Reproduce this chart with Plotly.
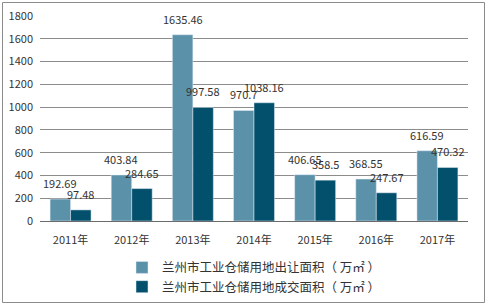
import plotly.graph_objects as go

categories = ["2011年", "2012年", "2013年", "2014年", "2015年", "2016年", "2017年"]
supply = [192.69, 403.84, 1635.46, 970.7, 406.65, 368.55, 616.59]
deal = [97.48, 284.65, 997.58, 1038.16, 358.5, 247.67, 470.32]
supply_labels = ["192.69", "403.84", "1635.46", "970.7", "406.65", "368.55", "616.59"]
deal_labels = ["97.48", "284.65", "997.58", "1038.16", "358.5", "247.67", "470.32"]
name1 = "兰州市工业仓储用地出让面积（ 万㎡ ）"
name2 = "兰州市工业仓储用地成交面积（ 万㎡ ）"
yticks = [0, 200, 400, 600, 800, 1000, 1200, 1400, 1600, 1800]

FONT = "Noto Sans CJK SC, Noto Sans, sans-serif"

L, R, T, B = 40, 20, 16, 85
W, H = 488, 306
pw, ph = W - L - R, H - T - B
BARGAP = 0.33
half_bar = pw / len(categories) * (1 - BARGAP) / 4

fig = go.Figure()
fig.add_bar(x=categories, y=supply, name=name1, marker_color="#5B91A9")
fig.add_bar(x=categories, y=deal, name=name2, marker_color="#03506C")

annotations = []
for cat, v, t in zip(categories, supply, supply_labels):
    annotations.append(dict(x=cat, y=v, text=t, xref="x", yref="y", showarrow=False,
                            yanchor="bottom", xshift=-half_bar, yshift=6,
                            font=dict(size=11, color="#333333")))
for cat, v, t in zip(categories, deal, deal_labels):
    annotations.append(dict(x=cat, y=v, text=t, xref="x", yref="y", showarrow=False,
                            yanchor="bottom", xshift=half_bar, yshift=6,
                            font=dict(size=11, color="#333333")))

fig.update_layout(
    width=W, height=H,
    margin=dict(l=L, r=R, t=T, b=B, autoexpand=False),
    paper_bgcolor="white", plot_bgcolor="white",
    font=dict(family=FONT, size=11, color="#333333"),
    barmode="group", bargap=BARGAP, bargroupgap=0,
    showlegend=True,
    legend=dict(orientation="v", x=0.5, xanchor="center", y=-0.155, yanchor="top",
                font=dict(size=12.5, color="#333333"), itemwidth=30,
                tracegroupgap=0, bgcolor="rgba(0,0,0,0)"),
    xaxis=dict(showline=True, linecolor="#6b6b6b", linewidth=1, ticks="",
               ticklabelstandoff=9,
               tickfont=dict(size=11, color="#333333"), showgrid=False),
    yaxis=dict(range=[0, 1800], tickvals=yticks, showgrid=True, gridcolor="#8c8c8c",
               gridwidth=1, zeroline=False, showline=False, ticks="",
               ticklabelstandoff=6,
               tickfont=dict(size=11, color="#333333")),
    annotations=annotations,
    shapes=[dict(type="rect", xref="paper", yref="paper",
                 x0=(2.5 - L) / pw, x1=(W - 3.5 - L) / pw,
                 y0=-(H - 3.5 - (H - B)) / ph,
                 y1=1 + (T - 2.5) / ph,
                 line=dict(color="#8c8c8c", width=1), fillcolor="rgba(0,0,0,0)",
                 layer="below")],
)

fig.write_html("out.html")
